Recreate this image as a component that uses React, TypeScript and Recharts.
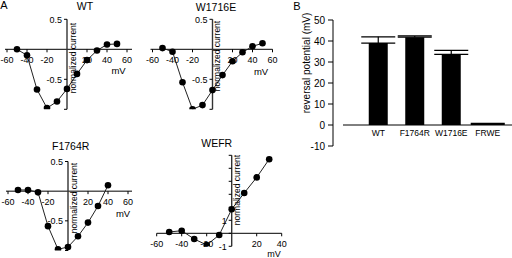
import React from 'react';
import {
  LineChart, Line, XAxis, YAxis, ReferenceLine, ReferenceDot,
  BarChart, Bar, ErrorBar, LabelList,
} from 'recharts';

const FONT = '"Liberation Sans", Arial, Helvetica, sans-serif';

// ---- Panel A data ----
const ivVoltage = [-50, -40, -30, -20, -10, 0, 10, 20, 30, 40, 50];
const wtCurrent = [0.0, -0.1, -0.67, -0.98, -0.87, -0.66, -0.41, -0.18, -0.02, 0.08, 0.09];
const w1716eCurrent = [0.02, -0.04, -0.55, -1.0, -0.93, -0.68, -0.43, -0.2, -0.05, 0.05, 0.1];
const f1764rVoltage = [-50, -40, -30, -20, -10, 0, 10, 20, 30, 40];
const f1764rCurrent = [0.02, 0.02, -0.02, -0.59, -0.98, -0.94, -0.76, -0.53, -0.25, 0.1];
const wefrVoltage = [-50, -40, -30, -20, -10, 0, 10, 20, 30];
const wefrCurrent = [0.1, 0.2, -0.44, -0.9, -0.13, 1.85, 3.1, 4.3, 5.7];

const ivXTicks = [-60, -40, -20, 20, 40, 60];
const wefrXTicks = [-60, -40, -20, 20, 40];
const ivYTicks = [0.5, -0.5, -1];
const ivYTickLabels = ['0.5', '-0.5', ''];
const wefrYTicks = [-1, 0, 1, 2, 3, 4, 5, 6];
const wefrYTickLabels = ['-1', '', '1', '', '', '', '', ''];

// ---- Panel B data ----
const mutants = ['WT', 'F1764R', 'W1716E', 'FRWE'];
const reversalMean = [39, 41.8, 33.6, 0.3];
const reversalSem = [3, 0.6, 1.9, 0.5];
const barYTicks = [-10, 0, 10, 20, 30, 40, 50];

const zip = (xs: number[], ys: number[]) => xs.map((v, i) => ({ v, i: ys[i] }));

type TxtProps = { x: number; y: number; size: number; rotate?: boolean; children: React.ReactNode };
const Txt = ({ x, y, size, rotate, children }: TxtProps) => (
  <div
    style={{
      position: 'absolute', left: x, top: y, fontSize: size, fontFamily: FONT, lineHeight: 1,
      whiteSpace: 'nowrap', color: '#000',
      transform: `translate(-50%, -50%)${rotate ? ' rotate(-90deg)' : ''}`,
    }}
  >
    {children}
  </div>
);

type IVProps = {
  data: { v: number; i: number }[];
  xDomain: [number, number];
  yDomain: [number, number];
  xTicks: number[];
  yTicks: number[];
  yTickLabels: string[];
  left: number; top: number; width: number; height: number;
  margin: { top: number; right: number; bottom: number; left: number };
};

const IVPanel = ({ data, xDomain, yDomain, xTicks, yTicks, yTickLabels, left, top, width, height, margin }: IVProps) => (
  <div style={{ position: 'absolute', left, top }}>
    <LineChart width={width} height={height} data={data} margin={margin}>
      <XAxis type="number" dataKey="v" domain={xDomain} hide allowDataOverflow />
      <YAxis type="number" domain={yDomain} hide allowDataOverflow />
      <ReferenceLine y={0} stroke="#000" strokeWidth={1} />
      <ReferenceLine segment={[{ x: 0, y: yDomain[1] }, { x: 0, y: yDomain[0] }]} stroke="#333" strokeWidth={1.4} />
      {xTicks.map((t) => (
        <ReferenceDot
          key={'x' + t} x={t} y={0} r={0}
          shape={(p: any) => (
            <g>
              <line x1={p.cx} y1={p.cy} x2={p.cx} y2={p.cy + 3} stroke="#000" strokeWidth={1} />
              <text x={p.cx} y={p.cy + 14} textAnchor="middle" fontSize={9} fontFamily={FONT} fill="#000">{t}</text>
            </g>
          )}
        />
      ))}
      {yTicks.map((t, k) => (
        <ReferenceDot
          key={'y' + t} x={0} y={t} r={0}
          shape={(p: any) => (
            <g>
              <line x1={p.cx - 3} y1={p.cy} x2={p.cx} y2={p.cy} stroke="#000" strokeWidth={1} />
              <text x={p.cx - 5} y={p.cy + 3.2} textAnchor="end" fontSize={9} fontFamily={FONT} fill="#000">{yTickLabels[k]}</text>
            </g>
          )}
        />
      ))}
      <Line
        dataKey="i" stroke="#222" strokeWidth={1} isAnimationActive={false}
        dot={{ r: 3.3, fill: '#000', stroke: '#000', strokeWidth: 0 }}
      />
    </LineChart>
  </div>
);

const barData = mutants.map((name, k) => ({
  name, mean: reversalMean[k], err: [0, reversalSem[k]],
}));

const BarYTick = (p: any) => (
  <text x={p.x} y={p.y} dy={3.6} textAnchor="end" fontSize={10} fontFamily={FONT} fill="#000">
    {p.payload.value}
  </text>
);

export default function App() {
  return (
    <div style={{ position: 'fixed', left: 0, top: 0, width: 512, height: 258, background: '#fff', overflow: 'hidden' }}>
      <IVPanel
        data={zip(ivVoltage, wtCurrent)} xDomain={[-62, 65]} yDomain={[-1, 0.5]}
        xTicks={ivXTicks} yTicks={ivYTicks} yTickLabels={ivYTickLabels}
        left={0} top={0} width={135} height={118}
        margin={{ top: 19.3, right: 3, bottom: 8.7, left: 5 }}
      />
      <IVPanel
        data={zip(ivVoltage, w1716eCurrent)} xDomain={[-62, 60]} yDomain={[-1, 0.5]}
        xTicks={ivXTicks} yTicks={ivYTicks} yTickLabels={ivYTickLabels}
        left={145} top={0} width={135} height={118}
        margin={{ top: 19.3, right: 7.5, bottom: 8.7, left: 5.5 }}
      />
      <IVPanel
        data={zip(f1764rVoltage, f1764rCurrent)} xDomain={[-62, 64]} yDomain={[-1, 0.5]}
        xTicks={ivXTicks} yTicks={ivYTicks} yTickLabels={ivYTickLabels}
        left={0} top={140} width={136} height={118}
        margin={{ top: 21.5, right: 4, bottom: 7.5, left: 6 }}
      />
      <IVPanel
        data={zip(wefrVoltage, wefrCurrent)} xDomain={[-60, 40]} yDomain={[-1, 6]}
        xTicks={wefrXTicks} yTicks={wefrYTicks} yTickLabels={wefrYTickLabels}
        left={145} top={138} width={145} height={120}
        margin={{ top: 17.3, right: 8.3, bottom: 11.7, left: 11.7 }}
      />

      <div style={{ position: 'absolute', left: 290, top: 0 }}>
        <BarChart width={222} height={160} data={barData} margin={{ top: 20, right: 0, bottom: 14, left: 8 }}>
          <XAxis dataKey="name" hide padding={{ left: 16.75, right: 6.25 }} />
          <YAxis yAxisId="gap" type="number" domain={[-10, 50]} width={10} axisLine={false} tickLine={false} tick={false} allowDataOverflow />
          <YAxis
            yAxisId="main" type="number" domain={[-10, 50]} ticks={barYTicks} width={35} tickSize={5} tickMargin={3}
            allowDataOverflow interval={0}
            axisLine={{ stroke: '#000' }} tickLine={{ stroke: '#000' }}
            tick={BarYTick}
          />
          <ReferenceLine yAxisId="main" y={0} stroke="#000" strokeWidth={1} />
          <Bar yAxisId="main" dataKey="mean" fill="#000" barSize={19} isAnimationActive={false}>
            <ErrorBar dataKey="err" width={17} stroke="#000" strokeWidth={1.2} direction="y" />
            <LabelList dataKey="name" position="bottom" offset={5} fill="#000" fontSize={8.5} fontFamily={FONT} />
          </Bar>
        </BarChart>
      </div>

      <Txt x={4} y={5} size={11}>A</Txt>
      <Txt x={297} y={5.5} size={11}>B</Txt>
      <Txt x={85} y={6} size={10.5}>WT</Txt>
      <Txt x={216} y={6.7} size={10.5}>W1716E</Txt>
      <Txt x={70.7} y={146} size={10.5}>F1764R</Txt>
      <Txt x={216.7} y={143} size={10.5}>WEFR</Txt>
      <Txt x={72.7} y={57.5} size={8.5} rotate>normalized current</Txt>
      <Txt x={217.3} y={56} size={8.5} rotate>normalized current</Txt>
      <Txt x={74} y={198} size={8.5} rotate>normalized current</Txt>
      <Txt x={236.7} y={190} size={8.5} rotate>normalized current</Txt>
      <Txt x={118.5} y={70.5} size={9.5}>mV</Txt>
      <Txt x={261} y={72} size={9.5}>mV</Txt>
      <Txt x={123} y={213.5} size={9.5}>mV</Txt>
      <Txt x={274} y={253.5} size={9}>mV</Txt>
      <Txt x={306.5} y={63} size={10} rotate>reversal potential (mV)</Txt>
    </div>
  );
}
